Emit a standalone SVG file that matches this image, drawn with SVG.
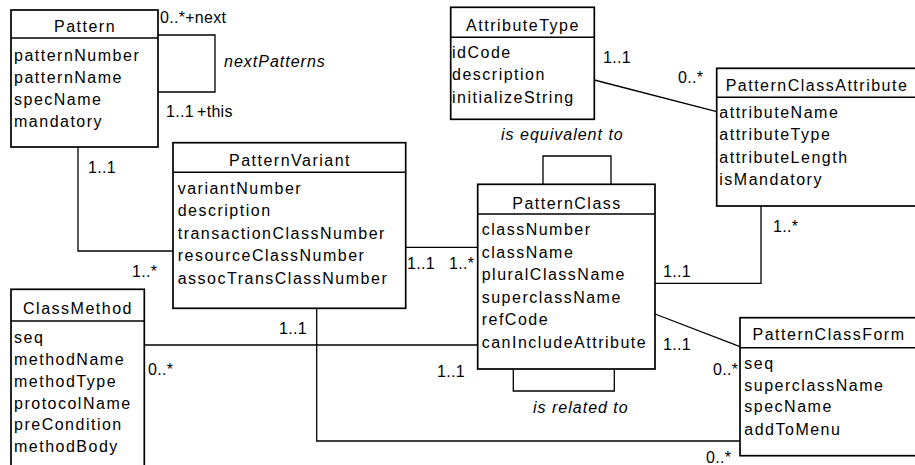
<svg xmlns="http://www.w3.org/2000/svg" width="915" height="465" viewBox="0 0 915 465">
<style>
text{font-family:"Liberation Sans",Arial,sans-serif;font-size:16px;fill:#000}
.a{letter-spacing:1.5px}
.ti{letter-spacing:1.5px;text-anchor:middle}
.m{letter-spacing:0.3px}
.it{font-style:italic;letter-spacing:1px}
.box{fill:#fff;stroke:#000;stroke-width:1.7}
.div{stroke:#000;stroke-width:1.4}
.con{fill:none;stroke:#000;stroke-width:1.3}
</style>
<rect width="915" height="465" fill="#fff"/>
<g id="connectors">
<polyline class="con" points="158,35 215,35 215,92 158,92"/>
<polyline class="con" points="78,147 78,251 173,251"/>
<line class="con" x1="405.7" y1="247.3" x2="477.7" y2="247.3"/>
<polyline class="con" points="543,184.3 543,156 611,156 611,184.3"/>
<polyline class="con" points="513.3,369 513.3,391 614.3,391 614.3,369"/>
<line class="con" x1="594.3" y1="80" x2="716.7" y2="111.7"/>
<polyline class="con" points="761,206 761,283.3 655,283.3"/>
<line class="con" x1="655" y1="314" x2="740" y2="346.7"/>
<polyline class="con" points="316.7,308.3 316.7,441 740,441"/>
<line class="con" x1="144.3" y1="345" x2="477.7" y2="345"/>
<text class="m" x="160" y="23">0..*+next</text>
<text class="it" x="224" y="67">nextPatterns</text>
<text class="m" x="166" y="117">1..1</text>
<text class="m" x="197" y="117">+this</text>
<text class="m" x="88" y="173">1..1</text>
<text class="m" x="132" y="277">1..*</text>
<text class="m" x="407" y="269">1..1</text>
<text class="m" x="449" y="269">1..*</text>
<text class="it" x="501" y="140">is equivalent to</text>
<text class="it" x="533" y="413">is related to</text>
<text class="m" x="603" y="63">1..1</text>
<text class="m" x="678" y="83">0..*</text>
<text class="m" x="773" y="232">1..*</text>
<text class="m" x="663" y="277">1..1</text>
<text class="m" x="663" y="350">1..1</text>
<text class="m" x="713" y="375">0..*</text>
<text class="m" x="706" y="463">0..*</text>
<text class="m" x="279" y="334">1..1</text>
<text class="m" x="148" y="375">0..*</text>
<text class="m" x="437" y="377">1..1</text>
</g>
<g id="Pattern">
<rect class="box" x="11" y="10" width="147" height="137"/>
<line class="div" x1="11" y1="38" x2="158" y2="38"/>
<text class="ti" x="85" y="32">Pattern</text>
<text class="a" x="14" y="61">patternNumber</text>
<text class="a" x="14" y="83">patternName</text>
<text class="a" x="14" y="105">specName</text>
<text class="a" x="14" y="127">mandatory</text>
</g>
<g id="PatternVariant">
<rect class="box" x="173" y="142.7" width="232.7" height="165.6"/>
<line class="div" x1="173" y1="172.3" x2="405.7" y2="172.3"/>
<text class="ti" x="290" y="166">PatternVariant</text>
<text class="a" x="177.7" y="193.5">variantNumber</text>
<text class="a" x="177.7" y="216">description</text>
<text class="a" x="177.7" y="238.5">transactionClassNumber</text>
<text class="a" x="177.7" y="261">resourceClassNumber</text>
<text class="a" x="177.7" y="283.5">assocTransClassNumber</text>
</g>
<g id="AttributeType">
<rect class="box" x="450.7" y="7.3" width="143.6" height="112"/>
<line class="div" x1="450.7" y1="37.3" x2="594.3" y2="37.3"/>
<text class="ti" x="523" y="31">AttributeType</text>
<text class="a" x="452" y="57.5">idCode</text>
<text class="a" x="452" y="80">description</text>
<text class="a" x="452" y="102.5">initializeString</text>
</g>
<g id="PatternClassAttribute">
<rect class="box" x="716.7" y="68.3" width="202" height="137.7"/>
<line class="div" x1="716.7" y1="97.3" x2="918" y2="97.3"/>
<text class="ti" x="817" y="91">PatternClassAttribute</text>
<text class="a" x="719.3" y="117.5">attributeName</text>
<text class="a" x="719.3" y="140">attributeType</text>
<text class="a" x="719.3" y="162.5">attributeLength</text>
<text class="a" x="719.3" y="185">isMandatory</text>
</g>
<g id="PatternClass">
<rect class="box" x="477.7" y="184.3" width="177.3" height="184.7"/>
<line class="div" x1="477.7" y1="214" x2="655" y2="214"/>
<text class="ti" x="567" y="208.5">PatternClass</text>
<text class="a" x="481.7" y="235">classNumber</text>
<text class="a" x="481.7" y="257.5">className</text>
<text class="a" x="481.7" y="280">pluralClassName</text>
<text class="a" x="481.7" y="302.5">superclassName</text>
<text class="a" x="481.7" y="325">refCode</text>
<text class="a" x="481.7" y="347.5">canIncludeAttribute</text>
</g>
<g id="ClassMethod">
<rect class="box" x="11" y="289.3" width="133.3" height="180"/>
<line class="div" x1="11" y1="321" x2="144.3" y2="321"/>
<text class="ti" x="78" y="313.5">ClassMethod</text>
<text class="a" x="14" y="343">seq</text>
<text class="a" x="14" y="364.5">methodName</text>
<text class="a" x="14" y="386.5">methodType</text>
<text class="a" x="14" y="408.5">protocolName</text>
<text class="a" x="14" y="430">preCondition</text>
<text class="a" x="14" y="452">methodBody</text>
</g>
<g id="PatternClassForm">
<rect class="box" x="740" y="317.7" width="178" height="138"/>
<line class="div" x1="740" y1="347.7" x2="918" y2="347.7"/>
<text class="ti" x="829" y="340">PatternClassForm</text>
<text class="a" x="744.3" y="368.5">seq</text>
<text class="a" x="744.3" y="390.5">superclassName</text>
<text class="a" x="744.3" y="412">specName</text>
<text class="a" x="744.3" y="435">addToMenu</text>
</g>
</svg>
